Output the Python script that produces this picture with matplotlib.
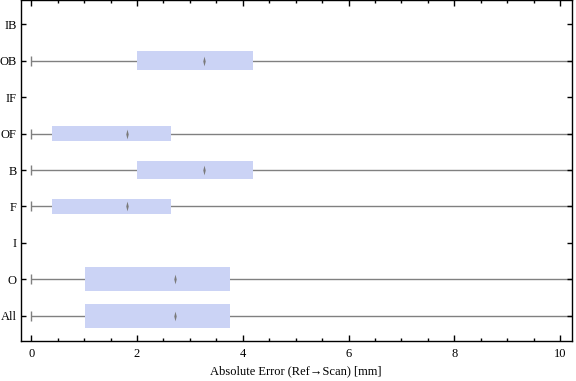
import numpy as np
import matplotlib.pyplot as plt
from matplotlib.ticker import MultipleLocator

# categorias de abajo hacia arriba
cats = ["All", "O", "I", "F", "B", "OF", "IF", "OB", "IB"]
q1 = [1.02, 1.02, np.nan, 0.39, 2.0, 0.39, np.nan, 2.0, np.nan]
q3 = [3.76, 3.76, np.nan, 2.65, 4.19, 2.65, np.nan, 4.19, np.nan]
med = [2.72, 2.72, np.nan, 1.81, 3.27, 1.81, np.nan, 3.27, np.nan]
wmin = [0, 0, np.nan, 0, 0, 0, np.nan, 0, np.nan]
wmax = [12, 12, np.nan, 12, 12, 12, np.nan, 12, np.nan]

alto = [0.66, 0.66, 0, 0.41, 0.52, 0.41, 0, 0.52, 0]  # alto de cada caja

plt.rcParams['font.family'] = ['Liberation Serif', 'DejaVu Serif']

fig = plt.figure(figsize=(5.76, 3.81), dpi=100)
ax = fig.add_axes([20.7/576, 40.3/381, (571.7-20.7)/576, (340.3)/381])

pos = np.arange(1, len(cats)+1)
gris = "#808080"
caja = "#cbd3f5"

diamante = [(-0.25, 0), (0, 1), (0.25, 0), (0, -1), (-0.25, 0)]

for i, p in enumerate(pos):
    if np.isnan(q1[i]):
        continue
    ax.plot([wmin[i], wmax[i]], [p, p], color=gris, lw=1.0, zorder=1, solid_capstyle='butt')
    ax.plot([wmin[i]], [p], marker='|', color=gris, ms=6.5, mew=1.0, zorder=1)
    ax.barh(p, q3[i]-q1[i], left=q1[i], height=alto[i], color=caja, lw=0, zorder=2)
    ax.plot([med[i]], [p], marker=diamante, color="#7a7a7a", ms=7, mew=0, zorder=3)

ax.set_xlim(-0.2, 10.22)
ax.set_ylim(0.31, 9.66)
ax.set_yticks(pos)
ax.set_yticklabels(cats)
ax.xaxis.set_major_locator(MultipleLocator(2))
ax.xaxis.set_minor_locator(MultipleLocator(0.5))

ax.tick_params(axis='both', which='both', direction='in', top=True, right=True,
               labelsize=9, width=1.0, color='black')
ax.tick_params(axis='x', which='major', length=4, pad=5)
ax.tick_params(axis='x', which='minor', length=2.5)
ax.tick_params(axis='y', which='major', length=3.5, pad=3)

for s in ax.spines.values():
    s.set_linewidth(1.0)

ax.set_xlabel("Absolute Error (Ref\u2192Scan) [mm]", fontsize=9, labelpad=4)

fig.savefig("out.png", dpi=100)
